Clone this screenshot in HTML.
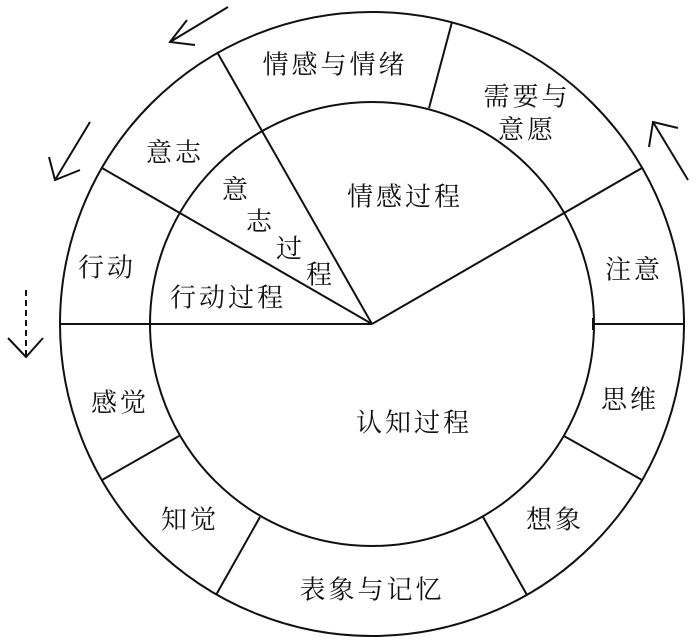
<!DOCTYPE html>
<html><head><meta charset="utf-8"><style>
html,body{margin:0;padding:0;background:#fff;}
svg{display:block;}
text{font-family:"Liberation Serif","Noto Serif CJK SC","Noto Sans CJK SC",serif;font-size:26px;fill:#111;text-anchor:middle;dominant-baseline:central;letter-spacing:3px;}
</style></head><body>
<svg width="700" height="644" viewBox="0 0 700 644" xmlns="http://www.w3.org/2000/svg">
<g stroke="#111" stroke-width="2" fill="none">
<circle cx="372" cy="324" r="312"/>
<circle cx="372" cy="324" r="222"/>
<line x1="60" y1="324" x2="372" y2="324"/>
<line x1="372" y1="324" x2="217" y2="52"/>
<line x1="372" y1="324" x2="102" y2="168"/>
<line x1="372" y1="324" x2="642" y2="168"/>
<line x1="452" y1="22" x2="429" y2="108"/>
<line x1="593" y1="324" x2="684" y2="324"/>
<line x1="593" y1="318" x2="593" y2="330"/>
<line x1="684" y1="318" x2="684" y2="330"/>
<line x1="179" y1="436" x2="102" y2="480"/>
<line x1="260" y1="517" x2="216" y2="595"/>
<line x1="483" y1="517" x2="527" y2="595"/>
<line x1="564" y1="436" x2="642" y2="480"/>
<line x1="228" y1="7" x2="170" y2="42"/>
<polyline points="187,20 170,42 195,45"/>
<line x1="90" y1="122" x2="55" y2="180"/>
<polyline points="49,157 55,180 80,170"/>
<line x1="688" y1="180" x2="653" y2="122"/>
<polyline points="678,128 653,122 649,147"/>
<line x1="26" y1="290" x2="26" y2="356" stroke-dasharray="6,4"/>
<polyline points="8,338 26,357 43,338"/>
</g>
<text x="335" y="65">情感与情绪</text>
<text x="527" y="97">需要与</text>
<text x="527" y="130">意愿</text>
<text x="175" y="153">意志</text>
<text x="107" y="268">行动</text>
<text x="228" y="298">行动过程</text>
<text x="235" y="190" style="letter-spacing:0">意</text>
<text x="259" y="222" style="letter-spacing:0">志</text>
<text x="289" y="249" style="letter-spacing:0">过</text>
<text x="319" y="275" style="letter-spacing:0">程</text>
<text x="405" y="197">情感过程</text>
<text x="634" y="270">注意</text>
<text x="630" y="400">思维</text>
<text x="414" y="423">认知过程</text>
<text x="120" y="403">感觉</text>
<text x="190" y="520">知觉</text>
<text x="555" y="520">想象</text>
<text x="372" y="590">表象与记忆</text>
</svg>
</body></html>
